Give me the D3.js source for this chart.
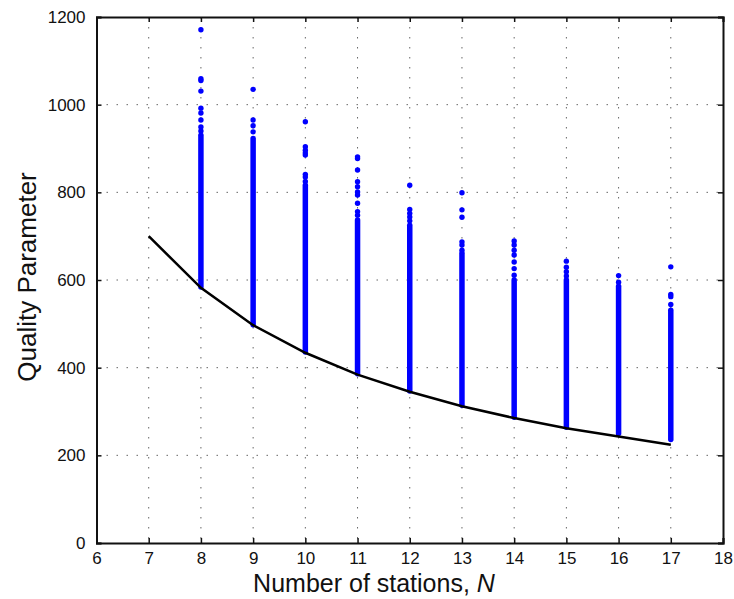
<!DOCTYPE html>
<html>
<head>
<meta charset="utf-8">
<script src="https://d3js.org/d3.v7.min.js"></script>
<style>
  body { margin: 0; background: #fff; }
  text { font-family: "Liberation Sans", Arial, sans-serif; fill: #111; }
</style>
</head>
<body>
<svg id="svgQuality" width="734" height="599"></svg>
<script>
// lower bound curve
var curve_N = [7, 8, 9, 10, 11, 12, 13, 14, 15, 16, 17];
var curve_Q = [700, 582, 497, 434, 384, 345, 312, 285, 262, 243, 224];

// scatter columns: dense part + sparse outliers on top
var stations = [8, 9, 10, 11, 12, 13, 14, 15, 16, 17];
var dense_low = [584, 498, 436, 386, 347, 314, 287, 264, 250, 236];
var dense_high = [930, 923, 816, 737, 725, 661, 600, 600, 586, 531];
var outliers = [
    [1171, 1059, 1055, 1031, 992, 981, 965, 949, 940],
    [1035, 965, 952, 938],
    [961, 904, 896, 890, 885, 841, 835, 825],
    [881, 877, 851, 824, 813, 801, 794, 775, 756, 748],
    [816, 761, 752, 744, 735],
    [799, 760, 743, 687, 680, 668],
    [689, 680, 668, 657, 641, 626, 611],
    [643, 629, 619, 609],
    [610, 595],
    [630, 567, 562, 544]
];

var x_ticks = d3.range(6, 19);
var y_ticks = [0, 200, 400, 600, 800, 1000, 1200];

const margin = {top: 17, right: 11, bottom: 56, left: 96.5};
const width = 734 - margin.left - margin.right;
const height = 599 - margin.top - margin.bottom;

var svg = d3.select("#svgQuality");
var g = svg.append("g")
    .attr("transform", "translate(" + margin.left + "," + margin.top + ")");

var x = d3.scaleLinear().domain([6, 18]).range([0, width]);
var y = d3.scaleLinear().domain([0, 1200]).range([height, 0]);

// dotted grid
g.append("g").selectAll("line")
    .data(x_ticks.slice(1, -1))
    .enter().append("line")
    .attr("x1", d => x(d)).attr("x2", d => x(d))
    .attr("y1", 0).attr("y2", height)
    .attr("stroke", "#666").attr("stroke-width", 1)
    .attr("stroke-dasharray", "1.5,8.5");
g.append("g").selectAll("line")
    .data(y_ticks.slice(1, -1))
    .enter().append("line")
    .attr("y1", d => y(d)).attr("y2", d => y(d))
    .attr("x1", 0).attr("x2", width)
    .attr("stroke", "#666").attr("stroke-width", 1)
    .attr("stroke-dasharray", "1.5,8.5");

// dense columns
var cols = stations.map((s, i) => ({n: s, lo: dense_low[i], hi: dense_high[i], out: outliers[i]}));
g.append("g").selectAll("line")
    .data(cols)
    .enter().append("line")
    .attr("x1", d => x(d.n)).attr("x2", d => x(d.n))
    .attr("y1", d => y(d.lo)).attr("y2", d => y(d.hi))
    .attr("stroke", "#0000ff")
    .attr("stroke-width", 5.5)
    .attr("stroke-linecap", "round");

// sparse points
var pts = [];
cols.forEach(function(c){
    c.out.forEach(v => pts.push({n: c.n, q: v}));
});
g.append("g").selectAll("circle")
    .data(pts)
    .enter().append("circle")
    .attr("cx", d => x(d.n))
    .attr("cy", d => y(d.q))
    .attr("r", 2.7)
    .attr("fill", "#0000ff");

// lower bound line
var curve = curve_N.map((n, i) => ({n: n, q: curve_Q[i]}));
g.append("path")
    .datum(curve)
    .attr("fill", "none")
    .attr("stroke", "#000")
    .attr("stroke-width", 2.5)
    .attr("d", d3.line().x(d => x(d.n)).y(d => y(d.q)));

// axes box with inward ticks on all sides
var ax = g.append("g").attr("class", "axes");
ax.append("g")
    .attr("transform", "translate(0," + height + ")")
    .call(d3.axisBottom(x).tickValues(x_ticks).tickSize(-5).tickPadding(9).tickFormat(d3.format("d")));
ax.append("g")
    .call(d3.axisTop(x).tickValues(x_ticks).tickSize(-5).tickFormat(""));
ax.append("g")
    .call(d3.axisLeft(y).tickValues(y_ticks).tickSize(-5).tickPadding(11).tickFormat(d3.format("d")));
ax.append("g")
    .attr("transform", "translate(" + width + ",0)")
    .call(d3.axisRight(y).tickValues(y_ticks).tickSize(-5).tickFormat(""));
ax.selectAll(".domain").attr("stroke", "#111").attr("stroke-width", 2);
ax.selectAll(".tick line").attr("stroke", "#111").attr("stroke-width", 1.5);
ax.selectAll(".tick text").attr("font-size", "17px").attr("fill", "#111")
    .style("font-family", "'Liberation Sans', Arial, sans-serif");

// axis labels
var xl = svg.append("text")
    .attr("x", 374)
    .attr("y", 592)
    .attr("text-anchor", "middle")
    .attr("font-size", "25px");
xl.append("tspan").text("Number of stations, ");
xl.append("tspan").attr("font-style", "italic").text("N");

svg.append("text")
    .attr("transform", "translate(36,277) rotate(-90)")
    .attr("text-anchor", "middle")
    .attr("font-size", "26px")
    .text("Quality Parameter");
</script>
</body>
</html>
